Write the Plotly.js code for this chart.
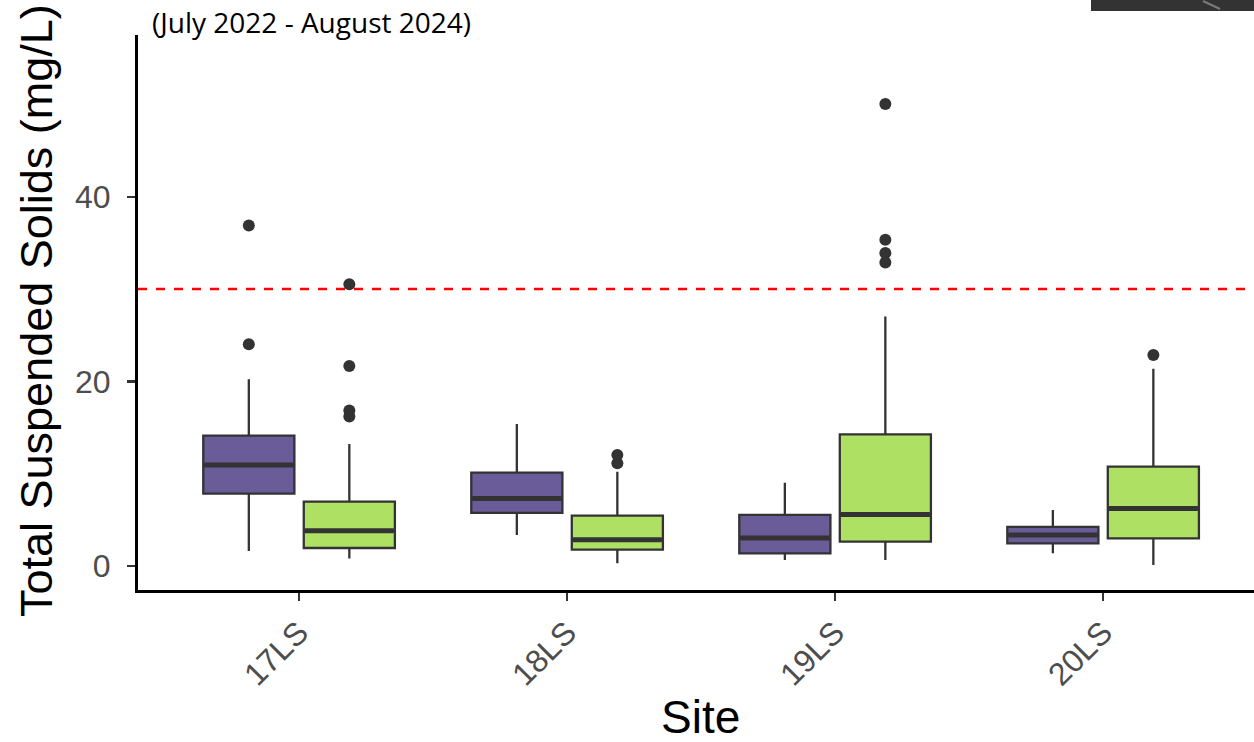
<!DOCTYPE html>
<html>
<head>
<meta charset="utf-8">
<script src="https://cdn.plot.ly/plotly-3.0.1.min.js"></script>
<style>html,body{margin:0;padding:0;background:#fff;}#chart{width:1254px;height:742px;}</style>
</head>
<body>
<div id="chart"></div>
<script>
// ---- data ----
const sites = ['17LS', '18LS', '19LS', '20LS'];
const yTicks = [0, 20, 40];
const threshold = 30;

// group 1 (purple)
const g1Name = 'Group 1';
const g1Lower  = [1.63, 3.36, 0.65, 1.37];
const g1Q1     = [7.84, 5.75, 1.37, 2.46];
const g1Median = [10.95, 7.30, 3.04, 3.36];
const g1Q3     = [14.13, 10.12, 5.53, 4.23];
const g1Upper  = [20.24, 15.39, 9.03, 6.07];
const g1Outliers = [[36.9, 24.03], [], [], []];

// group 2 (green)
const g2Name = 'Group 2';
const g2Lower  = [0.80, 0.29, 0.65, 0.10];
const g2Q1     = [1.95, 1.77, 2.64, 3.00];
const g2Median = [3.83, 2.85, 5.57, 6.22];
const g2Q3     = [6.97, 5.46, 14.27, 10.77];
const g2Upper  = [13.22, 10.22, 27.03, 21.36];
const g2Outliers = [[30.53, 21.68, 16.84, 16.19], [12.03, 11.13], [50.05, 35.34, 33.90, 32.88], [22.87]];

// ---- styling ----
const dodge = 0.1875;
const boxW = 0.34;
const edge = '#333333';

function groupTraces(name, offset, color, lower, q1, med, q3, upper, outl) {
  const xs = sites.map((s, i) => i + offset);
  const box = {
    type: 'box', name: name, x: xs,
    lowerfence: lower, q1: q1, median: med, q3: q3, upperfence: upper,
    width: boxW, whiskerwidth: 0, boxpoints: false,
    fillcolor: color, line: {color: edge, width: 2.3},
    showlegend: false, hoverinfo: 'y'
  };
  const mx = [], my = [];
  xs.forEach((x, i) => { mx.push(x - boxW / 2 + 0.004, x + boxW / 2 - 0.004, null); my.push(med[i], med[i], null); });
  const medLine = {
    type: 'scatter', mode: 'lines', x: mx, y: my,
    line: {color: edge, width: 5}, showlegend: false, hoverinfo: 'skip'
  };
  const ox = [], oy = [];
  outl.forEach((arr, i) => arr.forEach(v => { ox.push(xs[i]); oy.push(v); }));
  const pts = {
    type: 'scatter', mode: 'markers', x: ox, y: oy,
    marker: {color: edge, size: 12}, showlegend: false, hoverinfo: 'y'
  };
  return [box, medLine, pts];
}

const traces = [].concat(
  groupTraces(g1Name, -dodge, '#6a5b99', g1Lower, g1Q1, g1Median, g1Q3, g1Upper, g1Outliers),
  groupTraces(g2Name, dodge, '#ade063', g2Lower, g2Q1, g2Median, g2Q3, g2Upper, g2Outliers)
);

const axisFont = {family: 'Liberation Sans, Arial, sans-serif', size: 32, color: '#4d4d4d'};

const layout = {
  width: 1254, height: 742,
  paper_bgcolor: '#ffffff', plot_bgcolor: '#ffffff',
  margin: {l: 138, r: 0, t: 35, b: 152, pad: 0},
  showlegend: false,
  boxmode: 'overlay',
  xaxis: {
    range: [-0.601, 3.563],
    tickmode: 'array', tickvals: sites.map((s, i) => i), ticktext: sites,
    tickangle: -45, tickfont: axisFont,
    showline: true, linecolor: '#000', linewidth: 3, mirror: false,
    ticks: 'outside', ticklen: 8, tickwidth: 2.5, tickcolor: edge,
    showgrid: false, zeroline: false, fixedrange: true
  },
  yaxis: {
    range: [-2.6, 57.53],
    tickmode: 'array', tickvals: yTicks, ticktext: yTicks.map(String),
    tickfont: axisFont, ticklabelstandoff: 10,
    showline: true, linecolor: '#000', linewidth: 3,
    ticks: 'outside', ticklen: 8, tickwidth: 2.5, tickcolor: edge,
    showgrid: false, zeroline: false, fixedrange: true
  },
  shapes: [
    {type: 'line', xref: 'paper', x0: 0, x1: 1, yref: 'y', y0: threshold, y1: threshold,
     line: {color: '#ff0000', width: 2.5, dash: 'dash'}, layer: 'below'},
    {type: 'rect', xref: 'paper', yref: 'paper', x0: (1091 - 138) / 1116, x1: 1.01,
     y0: (590 - 11) / 555, y1: (590 + 2) / 555 + 0.1, fillcolor: '#333333', line: {width: 0}},
    {type: 'line', xref: 'paper', yref: 'paper', x0: (1203 - 138) / 1116, x1: (1220 - 138) / 1116,
     y0: (590 - 1) / 555, y1: (590 - 9) / 555, line: {color: '#7a7a7a', width: 2}}
  ],
  annotations: [
    {text: '(July 2022 - August 2024)', showarrow: false,
     xref: 'paper', x: 0, xanchor: 'left', xshift: 12,
     yref: 'paper', y: 1, yanchor: 'top', yshift: 34,
     font: {family: 'Open Sans, Noto Sans, sans-serif', size: 28, color: '#000'}},
    {text: 'Total Suspended Solids (mg/L)', textangle: -90, showarrow: false,
     xref: 'paper', x: 0, xanchor: 'right', xshift: -74,
     yref: 'paper', y: 0.5, yanchor: 'middle', yshift: 2,
     font: {family: 'Liberation Sans, Arial, sans-serif', size: 45, color: '#000'}},
    {text: 'Site', showarrow: false,
     xref: 'paper', x: 0.5, xanchor: 'center', xshift: 4,
     yref: 'paper', y: 0, yanchor: 'top', yshift: -99,
     font: {family: 'Liberation Sans, Arial, sans-serif', size: 46, color: '#000'}}
  ]
};

Plotly.newPlot('chart', traces, layout, {displayModeBar: false, staticPlot: true});
</script>
</body>
</html>
